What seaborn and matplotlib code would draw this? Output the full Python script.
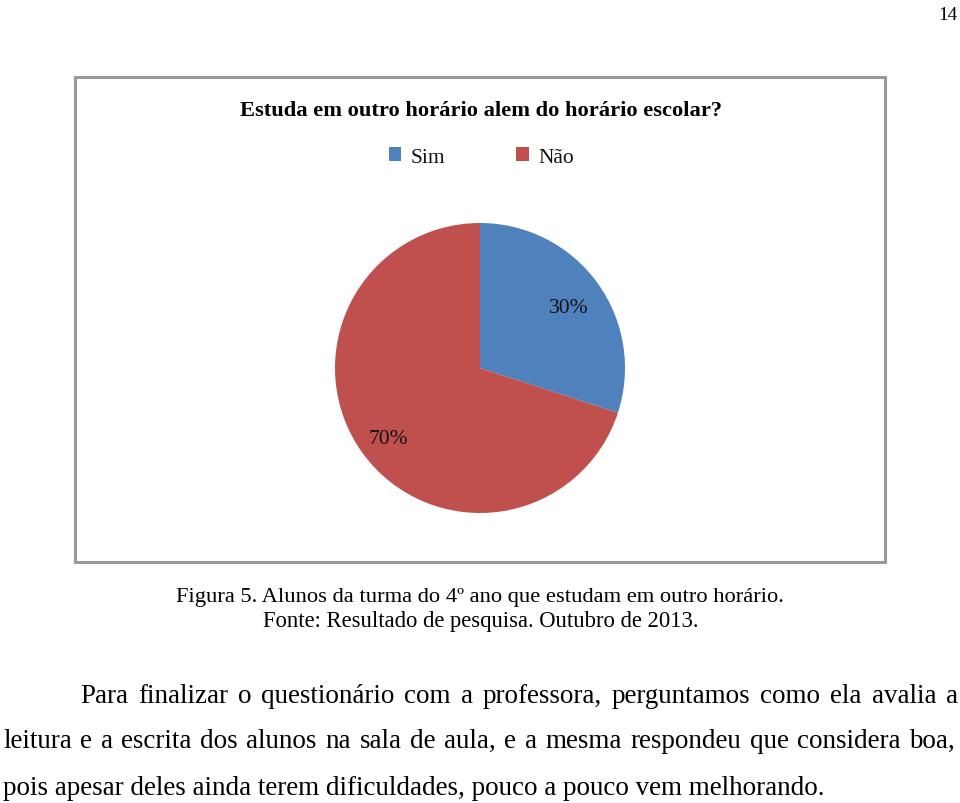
import matplotlib
matplotlib.use("Agg")
import matplotlib.pyplot as plt
import seaborn as sns
from matplotlib.patches import Rectangle

# ---- data ----
labels = ["Sim", "Não"]
values = [30, 70]
colors = ["#4F81BD", "#C0504D"]
title = "Estuda em outro horário alem do horário escolar?"
caption1 = "Figura 5. Alunos da turma do 4º ano que estudam em outro horário."
caption2 = "Fonte: Resultado de pesquisa. Outubro de 2013."
para = [
    "Para finalizar o questionário com a professora, perguntamos como ela avalia a",
    "leitura e a escrita dos alunos na sala de aula, e a mesma respondeu que considera boa,",
    "pois apesar deles ainda terem dificuldades, pouco a pouco vem melhorando.",
]
page_num = "14"

sns.set_theme(style="white")
plt.rcParams['font.family'] = ['Liberation Serif', 'DejaVu Serif']
plt.rcParams['text.color'] = 'black'

W, H = 960, 804
fig = plt.figure(figsize=(9.6, 8.04), dpi=100)
fig.patch.set_facecolor('white')
renderer = fig.canvas.get_renderer()


def fx(x):
    return x / W


def fy(y):
    return 1 - y / H


def fit_text(s, x0, x1, y, weight='normal', color='black'):
    t = fig.text(fx(x0), fy(y), s, fontsize=20, weight=weight,
                 va='baseline', ha='left', color=color)
    w = t.get_window_extent(renderer).width
    fs = 20 * (x1 - x0) / w
    t.set_fontsize(fs)
    return t, fs


def justify(s, x0, x1, y, fontsize):
    words = s.split()
    ts = [fig.text(0, fy(y), w, fontsize=fontsize, va='baseline', ha='left',
                   color='black')
          for w in words]
    widths = [t.get_window_extent(renderer).width for t in ts]
    gap = ((x1 - x0) - sum(widths)) / (len(words) - 1)
    x = x0
    for t, w in zip(ts, widths):
        t.set_x(fx(x))
        x += w + gap


# ---- chart frame ----
fig.patches.append(Rectangle((fx(75), fy(563)), fx(885) - fx(75), fy(78) - fy(563),
                             transform=fig.transFigure, fill=False,
                             edgecolor='#9a9a9a', linewidth=2.2))

# ---- pie ----
cx, cy, r = 480, 369, 145
ax = fig.add_axes([fx(cx - r), fy(cy + r), 2 * r / W, 2 * r / H])
wedges, texts, autotexts = ax.pie(
    values, colors=colors, startangle=90, counterclock=False,
    autopct=lambda p: f"{p:.0f}%", pctdistance=0.77,
    wedgeprops=dict(linewidth=0))
ax.set_xlim(-1, 1)
ax.set_ylim(-1, 1)
ax.set_aspect('equal')
ax.axis('off')
for t in autotexts:
    t.set_fontsize(15.5)
    t.set_color('#111111')
    px, py = t.get_position()
    t.set_position((px - 0.01, py - 0.035))

# ---- title ----
fit_text(title, 240, 720, 116, weight='bold')

# ---- legend ----
leg = fig.legend(wedges, labels, loc='center',
                 bbox_to_anchor=(fx(481.5), fy(158)), ncol=2, frameon=False,
                 handlelength=0.56, handleheight=0.56, handletextpad=0.47,
                 columnspacing=3.3, fontsize=15.5, borderpad=0)
for t in leg.get_texts():
    t.set_color('#111111')

# ---- caption ----
fit_text(caption1, 176, 783, 602)
fit_text(caption2, 263, 697, 627)

# ---- paragraph ----
_, pfs = fit_text(para[2], 3, 827, 795)
justify(para[0], 80, 958, 703, pfs)
justify(para[1], 3, 955, 748, pfs)

# ---- page number ----
fit_text(page_num, 938, 957, 20)

fig.savefig("out.png", dpi=100, facecolor='white')
